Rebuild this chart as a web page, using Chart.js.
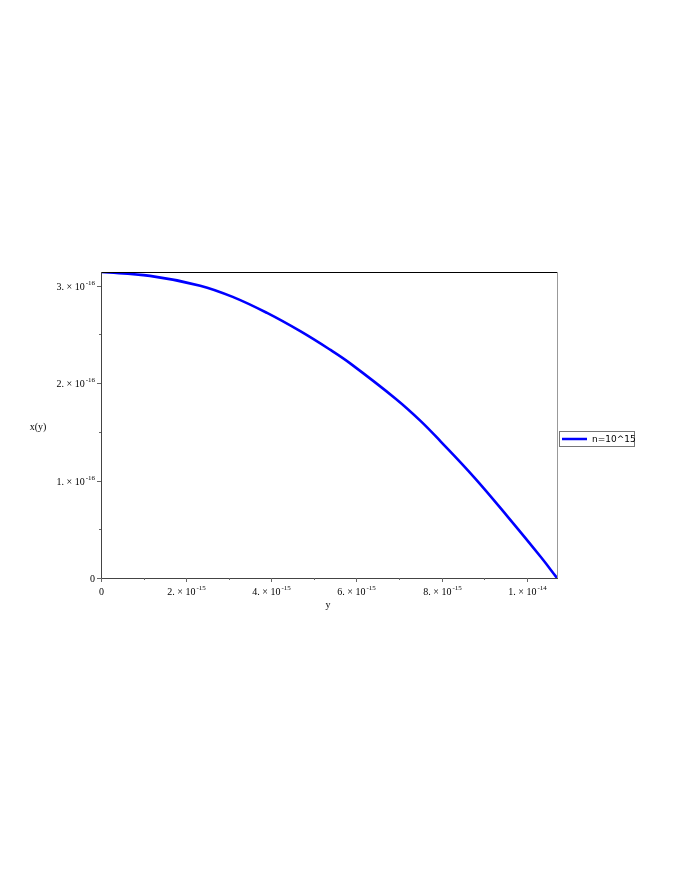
<!DOCTYPE html>
<html>
<head>
<meta charset="utf-8">
<script src="https://cdn.jsdelivr.net/npm/chart.js@4"></script>
<style>
  html, body { margin: 0; padding: 0; background: #fff; }
  #wrap { width: 680px; height: 880px; }
</style>
</head>
<body>
<div id="wrap"><canvas id="myCanvas" width="680" height="880"></canvas></div>
<script>
// values
const yValues = [0, 1.15e-15, 2.33e-15, 3.12e-15, 3.90e-15, 4.69e-15, 5.39e-15, 5.86e-15, 6.92e-15, 7.51e-15, 7.98e-15, 8.77e-15, 9.55e-15, 1.034e-14, 1.071e-14];
const xValues = [3.14e-16, 3.10e-16, 3.00e-16, 2.88e-16, 2.72e-16, 2.53e-16, 2.34e-16, 2.20e-16, 1.84e-16, 1.61e-16, 1.40e-16, 1.03e-16, 0.63e-16, 0.21e-16, 0];
const seriesName = "n=10^15";

const xTicks = [0, 2e-15, 4e-15, 6e-15, 8e-15, 1e-14];
const xTickLabels = [["0", ""], ["2. \u00d7 10", "-15"], ["4. \u00d7 10", "-15"], ["6. \u00d7 10", "-15"], ["8. \u00d7 10", "-15"], ["1. \u00d7 10", "-14"]];
const xMinor = [1e-15, 3e-15, 5e-15, 7e-15, 9e-15];
const yTicks = [0, 1e-16, 2e-16, 3e-16];
const yTickLabels = [["0", ""], ["1. \u00d7 10", "-16"], ["2. \u00d7 10", "-16"], ["3. \u00d7 10", "-16"]];
const yMinor = [0.5e-16, 1.5e-16, 2.5e-16];

const points = yValues.map((v, i) => ({ x: v, y: xValues[i] }));

function drawSci(ctx, main, sup, x, y, align) {
  ctx.font = "10px 'Liberation Serif'";
  const w1 = ctx.measureText(main).width;
  ctx.font = "7px 'Liberation Serif'";
  const w2 = sup ? ctx.measureText(sup).width + 1 : 0;
  const total = w1 + w2;
  let start = x;
  if (align === "right") start = x - total;
  if (align === "center") start = x - total / 2;
  ctx.textAlign = "left";
  ctx.textBaseline = "alphabetic";
  ctx.fillStyle = "#000";
  ctx.font = "10px 'Liberation Serif'";
  ctx.fillText(main, start, y);
  if (sup) {
    ctx.font = "7px 'Liberation Serif'";
    ctx.fillText(sup, start + w1 + 1, y - 5);
  }
}

const mapleAxes = {
  id: "mapleAxes",
  afterDraw(chart) {
    const ctx = chart.ctx;
    const a = chart.chartArea;
    const xs = chart.scales.x;
    const ys = chart.scales.y;
    ctx.save();
    // frame
    ctx.lineWidth = 1;
    ctx.strokeStyle = "#000";
    ctx.beginPath(); ctx.moveTo(a.left, a.top + 0.5); ctx.lineTo(a.right, a.top + 0.5); ctx.stroke();
    ctx.strokeStyle = "#999";
    ctx.beginPath(); ctx.moveTo(a.right + 0.5, a.top); ctx.lineTo(a.right + 0.5, a.bottom); ctx.stroke();
    ctx.strokeStyle = "#444";
    ctx.beginPath(); ctx.moveTo(a.left + 0.5, a.top); ctx.lineTo(a.left + 0.5, a.bottom + 0.5); ctx.lineTo(a.right + 1, a.bottom + 0.5); ctx.stroke();

    // y ticks
    ctx.strokeStyle = "#666";
    yTicks.forEach((v, i) => {
      const py = Math.round(ys.getPixelForValue(v)) + 0.5;
      ctx.beginPath(); ctx.moveTo(a.left - 4, py); ctx.lineTo(a.left, py); ctx.stroke();
      drawSci(ctx, yTickLabels[i][0], yTickLabels[i][1], a.left - 6, py + 3.5, "right");
    });
    yMinor.forEach((v) => {
      const py = Math.round(ys.getPixelForValue(v)) + 0.5;
      ctx.beginPath(); ctx.moveTo(a.left - 2, py); ctx.lineTo(a.left, py); ctx.stroke();
    });
    // x ticks
    xTicks.forEach((v, i) => {
      const px = Math.round(xs.getPixelForValue(v)) + 0.5;
      ctx.beginPath(); ctx.moveTo(px, a.bottom); ctx.lineTo(px, a.bottom + 4); ctx.stroke();
      drawSci(ctx, xTickLabels[i][0], xTickLabels[i][1], px, a.bottom + 17, "center");
    });
    xMinor.forEach((v) => {
      const px = Math.round(xs.getPixelForValue(v)) + 0.5;
      ctx.beginPath(); ctx.moveTo(px, a.bottom); ctx.lineTo(px, a.bottom + 2); ctx.stroke();
    });

    // axis titles
    ctx.fillStyle = "#000";
    ctx.font = "10px 'Liberation Serif'";
    ctx.textAlign = "center";
    ctx.textBaseline = "middle";
    ctx.fillText("x(y)", 38, 427);
    ctx.fillText("y", 328, 605);

    // legend
    ctx.strokeStyle = "#777";
    ctx.lineWidth = 1;
    ctx.strokeRect(559.5, 431.5, 75, 15);
    ctx.strokeStyle = "#0000ff";
    ctx.lineWidth = 2.5;
    ctx.beginPath(); ctx.moveTo(562, 439); ctx.lineTo(587, 439); ctx.stroke();
    ctx.fillStyle = "#000";
    ctx.font = "9px 'DejaVu Sans'";
    ctx.textAlign = "left";
    ctx.fillText(seriesName, 592, 439.5);
    ctx.restore();
  }
};

new Chart(document.getElementById("myCanvas"), {
  type: "line",
  data: {
    datasets: [
      {
        label: seriesName,
        data: points,
        borderColor: "#0000ff",
        borderWidth: 2.6,
        pointRadius: 0,
        tension: 0.4,
        fill: false,
      },
    ],
  },
  options: {
    responsive: false,
    animation: false,
    layout: { padding: { left: 101, top: 272, right: 123, bottom: 302 } },
    plugins: { legend: { display: false }, tooltip: { enabled: false } },
    scales: {
      x: {
        type: "linear",
        min: 0,
        max: 1.071e-14,
        grid: { display: false, drawTicks: false },
        border: { display: false },
        ticks: { display: false },
      },
      y: {
        type: "linear",
        min: 0,
        max: 3.14e-16,
        grid: { display: false, drawTicks: false },
        border: { display: false },
        ticks: { display: false },
      },
    },
  },
  plugins: [mapleAxes],
});
</script>
</body>
</html>
